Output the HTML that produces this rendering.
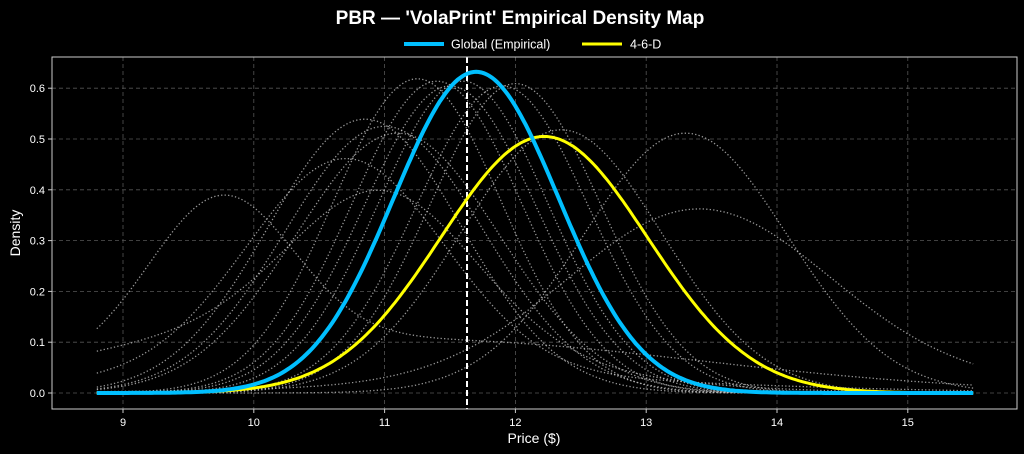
<!DOCTYPE html>
<html><head><meta charset="utf-8"><style>
html,body{margin:0;padding:0;background:#000;}
svg{display:block;font-family:"Liberation Sans","DejaVu Sans",sans-serif;}
</style></head><body>
<svg id="s" width="1024" height="454" xmlns="http://www.w3.org/2000/svg">
<rect width="1024" height="454" fill="#000"/>
<text x="520" y="24" fill="#fff" font-size="19" font-weight="bold" text-anchor="middle">PBR — 'VolaPrint' Empirical Density Map</text>
<line x1="404" y1="44" x2="444" y2="44" stroke="#00bfff" stroke-width="4"/>
<text x="451" y="48.5" fill="#fff" font-size="12.5">Global (Empirical)</text>
<line x1="582" y1="44" x2="622" y2="44" stroke="#ffff00" stroke-width="3"/>
<text x="630" y="48.5" fill="#fff" font-size="12.5">4-6-D</text>
<g id="grid"></g>
<g id="curves"></g>
<rect x="52" y="57" width="965" height="352" fill="none" stroke="#ccc" stroke-width="1"/>
<g id="ticks" fill="#fff" font-size="11"></g>
<text x="534" y="443" fill="#fff" font-size="14" text-anchor="middle">Price ($)</text>
<text transform="translate(20,233) rotate(-90)" fill="#fff" font-size="14" text-anchor="middle">Density</text>
</svg>
<script>
const NS="http://www.w3.org/2000/svg";
const X=v=>123+(v-9)*130.8, Y=v=>393-v*508;
const g=document.getElementById('grid'),c=document.getElementById('curves'),t=document.getElementById('ticks');
function el(p,tag,a,txt){const e=document.createElementNS(NS,tag);for(const k in a)e.setAttribute(k,a[k]);if(txt!=null)e.textContent=txt;p.appendChild(e);return e;}
for(let v=9;v<=15;v++){el(g,'line',{x1:X(v),x2:X(v),y1:57,y2:409,stroke:'#555','stroke-dasharray':'4 3','stroke-width':0.8});
 el(t,'line',{x1:X(v),x2:X(v),y1:409,y2:413,stroke:'#ccc'});el(t,'text',{x:X(v),y:426,'text-anchor':'middle'},String(v));}
for(let i=0;i<=6;i++){const v=i/10;el(g,'line',{x1:52,x2:1017,y1:Y(v),y2:Y(v),stroke:'#555','stroke-dasharray':'4 3','stroke-width':0.8});
 el(t,'line',{x1:48,x2:52,y1:Y(v),y2:Y(v),stroke:'#ccc'});el(t,'text',{x:45,y:Y(v)+4,'text-anchor':'end'},v.toFixed(1));}
const N=(x,m,s)=>Math.exp(-0.5*((x-m)/s)**2)/(s*2.5066);
function path(f){let d='';for(let x=8.8;x<=15.5001;x+=0.02){d+=(d?'L':'M')+X(x).toFixed(1)+','+Y(f(x)).toFixed(1);}return d;}
const grays=[
 x=>0.42*N(x,9.75,0.55)+0.58*N(x,11.2,2.2),
 x=>0.8*N(x,10.7,0.75)+0.2*N(x,11,2.2),
 [10.85,0.74],[11.0,0.76],[11.1,0.78],[11.25,0.645],[11.4,0.65],[11.5,0.66],[11.6,0.65],
 [11.9,0.66],[12.0,0.655],[12.35,0.77],[13.3,0.78],
 x=>0.5*N(x,11,0.7)+0.5*N(x,10.3,1.6),
 x=>0.85*N(x,13.4,1.0)+0.15*N(x,14,2.5)
];
grays.forEach(q=>{const f=typeof q==='function'?q:(x=>N(x,q[0],q[1]));
 el(c,'path',{d:path(f),fill:'none',stroke:'#c8c8c8','stroke-opacity':0.75,'stroke-width':1.3,'stroke-dasharray':'1.3 2.2'});});
el(c,'line',{x1:X(11.63),x2:X(11.63),y1:57,y2:409,stroke:'#fff','stroke-width':2,'stroke-dasharray':'6 3'});
el(c,'path',{d:path(x=>N(x,12.22,0.79)),fill:'none',stroke:'#ffff00','stroke-width':3});
el(c,'path',{d:path(x=>N(x,11.7,0.631)),fill:'none',stroke:'#00bfff','stroke-width':4});
</script>
</body></html>
